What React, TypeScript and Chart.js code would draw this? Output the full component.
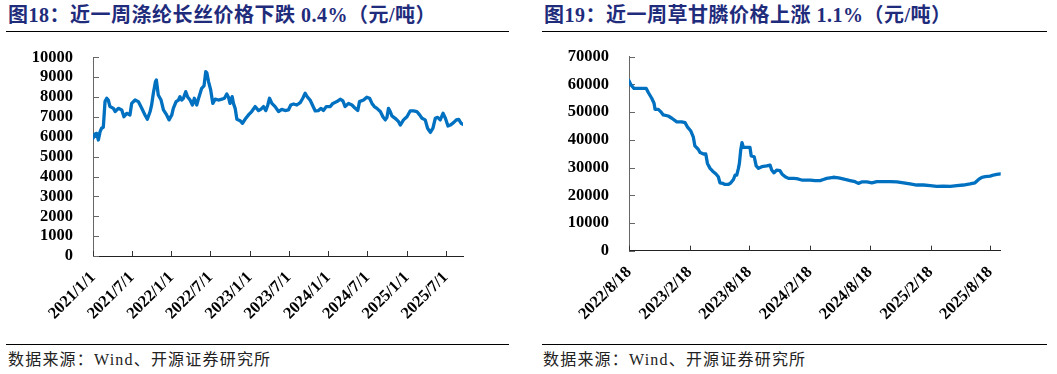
import React, { useEffect, useRef } from 'react';
import { Chart, registerables } from 'chart.js';
Chart.register(...registerables);

// ---------- Data ----------
const leftTitle = '图18：近一周涤纶长丝价格下跌 0.4%（元/吨）';
const rightTitle = '图19：近一周草甘膦价格上涨 1.1%（元/吨）';
const sourceText = '数据来源：Wind、开源证券研究所';

const leftYTicks = [0, 1000, 2000, 3000, 4000, 5000, 6000, 7000, 8000, 9000, 10000];
const rightYTicks = [0, 10000, 20000, 30000, 40000, 50000, 60000, 70000];

const leftTickLabels = ['2021/1/1', '2021/7/1', '2022/1/1', '2022/7/1', '2023/1/1', '2023/7/1', '2024/1/1', '2024/7/1', '2025/1/1', '2025/7/1'];
const leftDates = [
  '2021-01-01','2021-01-10','2021-01-18','2021-01-26','2021-02-03','2021-02-10','2021-02-18','2021-02-26','2021-03-06','2021-03-13','2021-03-21','2021-04-06','2021-04-14','2021-04-29','2021-05-15','2021-05-25','2021-06-07','2021-06-22','2021-06-30','2021-07-16','2021-07-31','2021-08-16','2021-08-31','2021-09-11','2021-09-24','2021-10-01','2021-10-09','2021-10-19','2021-10-23','2021-11-01','2021-11-14','2021-11-25','2021-12-10','2021-12-21',
  '2022-01-03','2022-01-10','2022-01-23','2022-02-03','2022-02-10','2022-02-18','2022-02-26','2022-03-09','2022-03-17','2022-03-29','2022-04-09','2022-04-18','2022-04-29','2022-05-10','2022-05-22','2022-06-02','2022-06-10','2022-06-15','2022-06-23','2022-07-03','2022-07-13','2022-07-24','2022-08-08','2022-08-24','2022-09-05','2022-09-16','2022-09-24','2022-10-01','2022-10-11','2022-10-17','2022-10-25','2022-11-02','2022-11-17','2022-11-28','2022-12-10','2022-12-26',
  '2023-01-10','2023-01-26','2023-02-11','2023-02-21','2023-03-06','2023-03-17','2023-03-26','2023-04-03','2023-04-14','2023-04-29','2023-05-15','2023-05-30','2023-06-15','2023-06-30','2023-07-11','2023-07-24','2023-08-08','2023-08-24','2023-09-05','2023-09-16','2023-09-27','2023-10-09','2023-10-22','2023-11-02','2023-11-17','2023-11-28','2023-12-10','2023-12-23',
  '2024-01-11','2024-01-23','2024-02-11','2024-02-26','2024-03-10','2024-03-20','2024-04-05','2024-04-21','2024-05-06','2024-05-18','2024-05-26','2024-06-14','2024-06-29','2024-07-12','2024-07-23','2024-08-03','2024-08-15','2024-08-31','2024-09-12','2024-09-23','2024-10-01','2024-10-08','2024-10-16','2024-10-24','2024-11-08','2024-11-24','2024-12-02','2024-12-17',
  '2025-01-02','2025-01-17','2025-02-02','2025-02-17','2025-03-02','2025-03-13','2025-03-28','2025-04-08','2025-04-21','2025-05-03','2025-05-14','2025-05-25','2025-06-06','2025-06-19','2025-06-30','2025-07-12','2025-07-23','2025-08-07','2025-08-20','2025-08-31','2025-09-11','2025-09-20',
];
const leftValues = [
  5920,6140,6170,5840,6260,6430,6480,7770,7940,7850,7520,7430,7270,7430,7350,7010,7180,7100,7680,7850,7770,7430,7100,6880,7270,7600,8190,8780,8860,8100,7850,7350,7100,6850,
  7100,7430,7770,7850,8020,7850,7940,8270,8020,7850,7600,7940,7600,8020,8440,8560,9280,9230,8780,8360,7680,7890,7850,7890,7940,8150,7990,7680,8020,7680,7430,6880,6810,6680,6880,7100,
  7270,7520,7320,7380,7520,7320,7600,7940,7680,7520,7270,7380,7320,7350,7600,7650,7600,7720,7940,8190,7990,7850,7550,7300,7320,7430,7320,7520,
  7520,7680,7770,7890,7800,7520,7680,7600,7430,7320,7770,7850,7990,7940,7680,7520,7430,7270,7010,6850,6980,7430,7270,7050,6930,6760,6590,6850,
  7010,7300,7300,7270,7100,6930,6850,6430,6220,6430,6930,6980,6850,7180,6930,6540,6590,6710,6850,6880,6680,6620,
];

const rightTickLabels = ['2022/8/18', '2023/2/18', '2023/8/18', '2024/2/18', '2024/8/18', '2025/2/18', '2025/8/18'];
const rightDates = [
  '2022-08-18','2022-08-24','2022-09-02','2022-09-20','2022-10-09','2022-10-16','2022-10-26','2022-11-02','2022-11-05','2022-11-15','2022-11-22','2022-11-30','2022-12-15','2022-12-26',
  '2023-01-10','2023-01-25','2023-02-04','2023-02-11','2023-02-21','2023-03-01','2023-03-06','2023-03-16','2023-03-22','2023-04-01','2023-04-08','2023-04-13','2023-04-21','2023-04-29','2023-05-09','2023-05-16','2023-05-21','2023-05-29','2023-06-05','2023-06-16','2023-06-23','2023-07-01','2023-07-06','2023-07-11','2023-07-16','2023-07-19','2023-07-23','2023-07-27','2023-07-31','2023-08-10','2023-08-20','2023-08-24','2023-09-02','2023-09-08','2023-09-15','2023-09-25','2023-10-10','2023-10-20','2023-10-25','2023-11-01','2023-11-09','2023-11-19','2023-11-25','2023-12-05','2023-12-15','2023-12-30',
  '2024-01-09','2024-01-24','2024-02-19','2024-03-05','2024-03-20','2024-03-30','2024-04-09','2024-04-29','2024-05-15','2024-06-04','2024-06-19','2024-07-04','2024-07-14','2024-07-24','2024-08-09','2024-08-24','2024-09-08','2024-09-28','2024-10-18','2024-11-08','2024-11-28','2024-12-18',
  '2025-01-07','2025-01-28','2025-02-17','2025-03-09','2025-03-29','2025-04-19','2025-05-09','2025-05-29','2025-06-18','2025-07-03','2025-07-14','2025-07-24','2025-08-03','2025-08-18','2025-08-28','2025-09-07','2025-09-19',
];
const rightValues = [
  61300,59800,58600,58600,58600,57000,55000,53200,51000,51000,50200,49000,48600,47800,
  46500,46500,46200,44700,43300,41100,37800,36600,35400,34900,34900,31500,29700,28700,27700,26700,24500,24300,23900,23900,24500,25700,27300,27300,29700,31500,36300,39000,37300,37300,37300,34200,33900,30600,29700,30300,30600,30900,29100,28100,29100,28900,27700,26700,26100,26100,
  26000,25500,25500,25300,25300,25700,26100,26500,26300,25700,25300,24900,24300,24800,24800,24500,24900,24900,24900,24800,24500,24100,
  23700,23700,23500,23200,23300,23200,23500,23700,24100,24500,25700,26500,26700,26900,27300,27500,27700,
];

// ---------- Helpers ----------
const toDay = (s: string) => {
  const [y, m, d] = s.split(/[-/]/).map(Number);
  return Date.UTC(y, m - 1, d) / 86400000;
};

const LINE_COLOR = '#0070C0';
const TICK_FONT = { family: '"Liberation Serif", "Times New Roman", serif', size: 16.5, weight: 'bold' as const };

const inwardTicks = {
  id: 'inwardTicks',
  beforeDatasetsDraw(chart: any) {
    const { ctx, chartArea, scales } = chart;
    const x = scales.x, y = scales.y;
    ctx.save();
    ctx.lineWidth = 1;
    ctx.strokeStyle = '#666';
    y.ticks.forEach((t: any) => {
      const py = Math.round(y.getPixelForValue(t.value)) + 0.5;
      ctx.beginPath();
      ctx.moveTo(chartArea.left, py);
      ctx.lineTo(chartArea.left + 6, py);
      ctx.stroke();
    });
    ctx.strokeStyle = '#333';
    x.ticks.forEach((t: any) => {
      const px = Math.round(x.getPixelForValue(t.value)) + 0.5;
      ctx.beginPath();
      ctx.moveTo(px, chartArea.bottom);
      ctx.lineTo(px, chartArea.bottom - 5);
      ctx.stroke();
    });
    ctx.restore();
  },
};

type Cfg = {
  dates: string[];
  values: number[];
  tickLabels: string[];
  yTicks: number[];
  yWidth: number;
  xHeight: number;
  padTop: number;
  padRight: number;
};

const zeroPad = (s: any) => {
  s.paddingTop = 0;
  s.paddingBottom = 0;
  s.paddingLeft = 0;
  s.paddingRight = 0;
};

function LineChart({ cfg, width, height }: { cfg: Cfg; width: number; height: number }) {
  const ref = useRef<HTMLCanvasElement | null>(null);
  useEffect(() => {
    if (!ref.current) return;
    const points = cfg.dates.map((d, i) => ({ x: toDay(d), y: cfg.values[i] }));
    const tickVals = cfg.tickLabels.map(toDay);
    const chart = new Chart(ref.current, {
      type: 'line',
      data: {
        datasets: [
          {
            data: points,
            borderColor: LINE_COLOR,
            borderWidth: 3.3,
            pointRadius: 0,
            tension: 0,
            borderJoinStyle: 'round',
            borderCapStyle: 'round',
          },
        ],
      },
      options: {
        animation: false,
        responsive: false,
        devicePixelRatio: 1,
        layout: { padding: { left: 0, right: cfg.padRight, top: cfg.padTop, bottom: 0 } },
        plugins: { legend: { display: false }, tooltip: { enabled: false } },
        scales: {
          x: {
            type: 'linear',
            min: tickVals[0],
            max: toDay(cfg.dates[cfg.dates.length - 1]),
            afterBuildTicks: (s: any) => {
              s.ticks = tickVals.map((v) => ({ value: v }));
            },
            afterFit: (s: any) => {
              s.height = cfg.xHeight;
              zeroPad(s);
            },
            ticks: {
              autoSkip: false,
              maxRotation: 45,
              minRotation: 45,
              padding: 12,
              color: '#000',
              font: TICK_FONT,
              callback: (_v: any, i: number) => cfg.tickLabels[i],
            },
            grid: { display: false, drawTicks: false },
            border: { display: true, color: '#222', width: 1 },
          },
          y: {
            min: cfg.yTicks[0],
            max: cfg.yTicks[cfg.yTicks.length - 1],
            afterBuildTicks: (s: any) => {
              s.ticks = cfg.yTicks.map((v) => ({ value: v }));
            },
            afterFit: (s: any) => {
              s.width = cfg.yWidth;
              zeroPad(s);
            },
            ticks: {
              autoSkip: false,
              padding: 20,
              color: '#000',
              font: TICK_FONT,
              callback: (v: any) => String(v),
            },
            grid: { display: false, drawTicks: false },
            border: { display: true, color: '#666', width: 1 },
          },
        },
      },
      plugins: [inwardTicks],
    } as any);
    return () => chart.destroy();
  }, [cfg]);
  return <canvas ref={ref} width={width} height={height} style={{ display: 'block', width, height }} />;
}

const leftCfg: Cfg = {
  dates: leftDates,
  values: leftValues,
  tickLabels: leftTickLabels,
  yTicks: leftYTicks,
  yWidth: 93,
  xHeight: 84,
  padTop: 17.3,
  padRight: 57,
};
const rightCfg: Cfg = {
  dates: rightDates,
  values: rightValues,
  tickLabels: rightTickLabels,
  yTicks: rightYTicks,
  yWidth: 99,
  xHeight: 89.3,
  padTop: 16.7,
  padRight: 49.3,
};

const titleStyle: React.CSSProperties = {
  position: 'absolute',
  top: 3,
  fontFamily: '"Liberation Serif", "Noto Sans CJK SC", serif',
  fontWeight: 'bold',
  fontSize: 20,
  lineHeight: '24px',
  letterSpacing: 0.5,
  color: '#1f2c7c',
  whiteSpace: 'nowrap',
};
const sourceStyle: React.CSSProperties = {
  position: 'absolute',
  top: 350,
  fontFamily: '"Liberation Serif", "Noto Sans CJK SC", serif',
  fontSize: 16,
  lineHeight: '20px',
  letterSpacing: 1.2,
  color: '#222',
  whiteSpace: 'nowrap',
};
const rule = (left: number, top: number, width: number): React.CSSProperties => ({
  position: 'absolute',
  left,
  top,
  width,
  height: 1.5,
  background: '#000',
});

export default function App() {
  return (
    <div style={{ position: 'absolute', left: 0, top: 0, width: 1057, height: 374, background: '#fff', overflow: 'hidden' }}>
      <div style={{ ...titleStyle, left: 8 }}>{leftTitle}</div>
      <div style={{ ...titleStyle, left: 544 }}>{rightTitle}</div>
      <div style={rule(6, 30.5, 503)} />
      <div style={rule(542, 30.5, 505)} />
      <div style={{ position: 'absolute', left: 0, top: 40 }}>
        <LineChart cfg={leftCfg} width={520} height={300} />
      </div>
      <div style={{ position: 'absolute', left: 530, top: 40 }}>
        <LineChart cfg={rightCfg} width={520} height={300} />
      </div>
      <div style={rule(6, 343.5, 503)} />
      <div style={rule(542, 343.5, 505)} />
      <div style={{ ...sourceStyle, left: 8 }}>{sourceText}</div>
      <div style={{ ...sourceStyle, left: 543 }}>{sourceText}</div>
    </div>
  );
}
